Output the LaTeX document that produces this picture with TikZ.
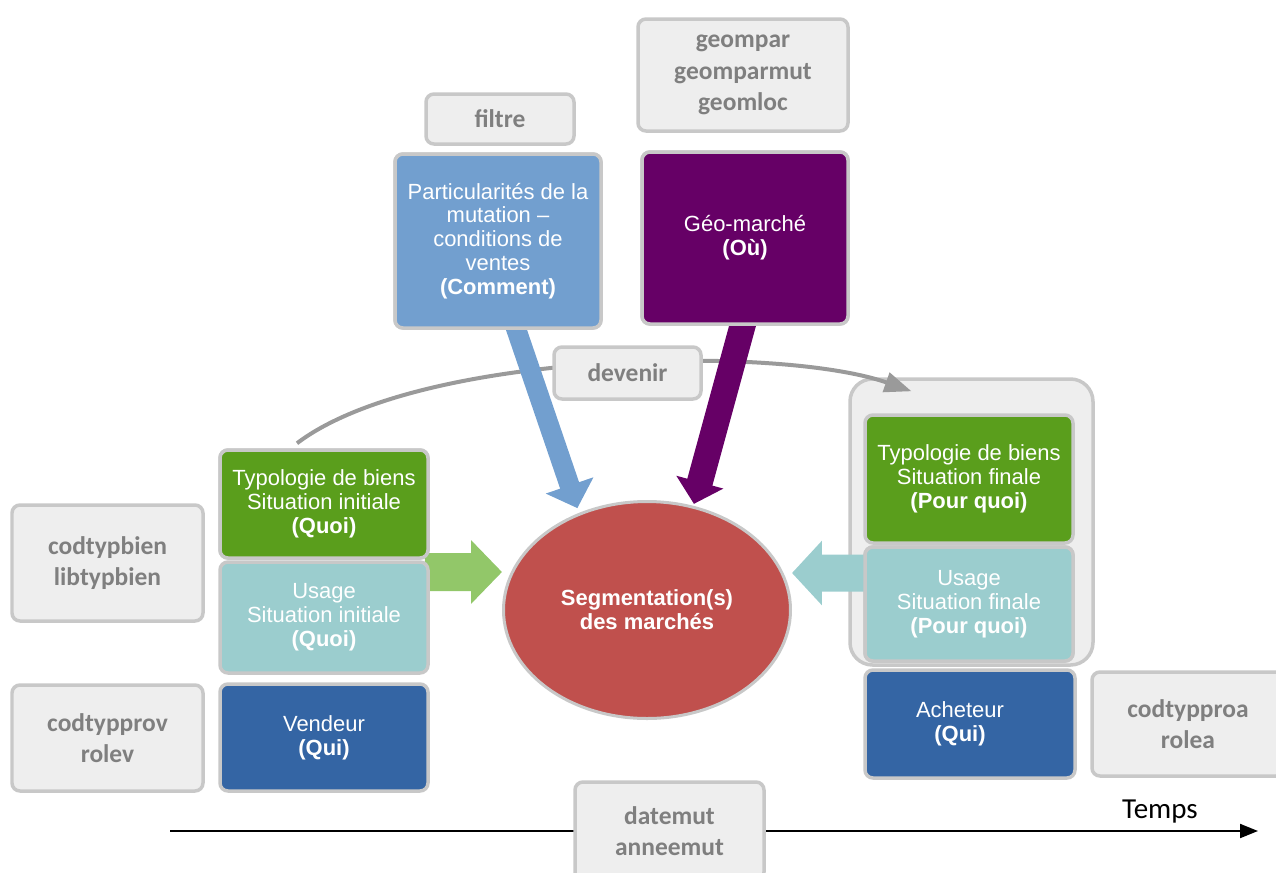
\documentclass[tikz,border=0pt]{standalone}
\usepackage{fontspec}
\setmainfont{Liberation Sans}
\newfontfamily\varfont{Carlito}
\usetikzlibrary{arrows.meta,shapes.geometric}

\definecolor{boxfill}{HTML}{EEEEEE}
\definecolor{edge}{HTML}{C8C8C8}
\definecolor{vartext}{HTML}{7F7F7F}
\definecolor{typogreen}{HTML}{5A9E1C}
\definecolor{usageteal}{HTML}{9BCDCE}
\definecolor{rolblue}{HTML}{3465A4}
\definecolor{condblue}{HTML}{729FCF}
\definecolor{geopurple}{HTML}{660066}
\definecolor{segred}{HTML}{C0504D}
\definecolor{arrowgreen}{HTML}{92C769}
\definecolor{flowgray}{HTML}{9A9A9A}

\begin{document}
\begin{tikzpicture}[x=0.02cm,y=-0.02cm,
  wh/.style 2 args={minimum width=#1*0.02cm, minimum height=#2*0.02cm},
  frame/.style={draw=edge, line width=0.07cm, rounded corners=0.16cm,
                inner sep=0pt, align=center},
  var/.style={frame, fill=boxfill, text=vartext,
              font=\varfont\bfseries\fontsize{14.5}{18}\selectfont},
  topic/.style={frame, text=white, font=\fontsize{12.5}{13.6}\selectfont},
  blockarrow/.style={line width=#1}]
\useasboundingbox (0,0) rectangle (1276,873);
\clip (0,0) rectangle (1276,873);

% central ellipse
\node[ellipse, draw=edge, line width=0.06cm, fill=segred, wh={287}{217},
      text=white, align=center, inner sep=0pt,
      font=\bfseries\fontsize{12.5}{13.8}\selectfont]
  (seg) at (647,610) {Segmentation(s)\\des marchés};

% boxes whose position the connectors refer to
\path
  node[topic, fill=typogreen, wh={208}{108}] (typoIni) at (324,504) {}
  node[topic, fill=condblue, wh={206}{174}] (particul) at (498,241) {}
  node[topic, fill=geopurple, wh={206}{172}] (geomarche) at (745,238) {}
  node[frame, fill=boxfill, rounded corners=0.45cm, wh={243}{286}] (finalbox) at (971.5,522) {}
  node[topic, fill=usageteal, wh={208}{114}] (usageFin) at (969,604) {};

% "devenir" link from the initial to the final situation
\draw[flowgray, line width=0.08cm, -{Triangle[length=0.54cm, width=0.4cm]}]
  ([xshift=-0.54cm, yshift=0.1cm]typoIni.north)
  .. controls (420,350) and (780,345) ..
  ([xshift=-1.2cm, yshift=-0.28cm]finalbox.north);

% block arrows towards the segmentation
\draw[condblue, blockarrow=0.4cm, -{Triangle[width=0.98cm, length=0.48cm]}, shorten >=0.1cm]
  ([xshift=0.28cm, yshift=0.26cm]particul.south) -- (seg.125);
\draw[geopurple, blockarrow=0.52cm, -{Triangle[width=0.95cm, length=0.45cm]}, shorten >=0.04cm]
  ([yshift=0.18cm]geomarche.south) -- (seg.66);
\draw[arrowgreen, blockarrow=0.76cm, -{Triangle[width=1.24cm, length=0.62cm]}]
  ([xshift=-0.1cm, yshift=-0.245cm]typoIni.south east) -- ([yshift=0.76cm]seg.west);
\draw[usageteal, blockarrow=0.74cm, -{Triangle[width=1.26cm, length=0.6cm]}]
  ([xshift=0.1cm, yshift=0.62cm]usageFin.west) -- ([yshift=0.74cm]seg.east);

% time axis
\coordinate (tstart) at (170,831);
\coordinate (tend) at (1258,831);
\draw[black, line width=0.04cm, -{Triangle[length=0.36cm, width=0.28cm]}] (tstart) -- (tend);
\node[font=\varfont\fontsize{16.5}{18}\selectfont, inner sep=0pt] (temps) at (1160,812) {Temps};

% topic boxes (drawn over the arrow shafts)
\node[topic, fill=condblue, wh={206}{174}] at (particul) {Particularités de la\\mutation --\\conditions de\\ventes\\\textbf{(Comment)}};
\node[topic, fill=geopurple, wh={206}{172}] at (geomarche) {Géo-marché\\\textbf{(Où)}};
\node[topic, fill=typogreen, wh={208}{108}] at (typoIni) {Typologie de biens\\Situation initiale\\\textbf{(Quoi)}};
\node[topic, fill=usageteal, wh={208}{111}] (usageIni) at (324,617.5) {Usage\\Situation initiale\\\textbf{(Quoi)}};
\node[topic, fill=rolblue, wh={208}{107}] (vendeur) at (324,737.5) {Vendeur\\\textbf{(Qui)}};
\node[topic, fill=typogreen, wh={208}{128}] (typoFin) at (969,479) {Typologie de biens\\Situation finale\\\textbf{(Pour quoi)}};
\node[topic, fill=usageteal, wh={208}{114}] at (usageFin) {Usage\\Situation finale\\\textbf{(Pour quoi)}};
\node[topic, fill=rolblue, wh={210}{108}] (acheteur) at (970,724) {\hspace*{-0.4cm}Acheteur\\\hspace*{-0.4cm}\textbf{(Qui)}};

% variable boxes
\node[var, wh={148}{50}] (filtre) at (500,119) {filtre};
\node[var, wh={210}{112}] (geomvars) at (743,75) {geompar\\geomparmut\\geomloc};
\node[var, wh={147}{52}] (devenir) at (627.5,373) {devenir};
\node[var, wh={191}{116}] (typbien) at (107.5,563) {codtypbien\\libtypbien};
\node[var, wh={191}{106}] (roleV) at (107.5,738) {codtypprov\\rolev};
\node[var, wh={192}{104}] (roleA) at (1188,724) {codtypproa\\rolea};
\node[var, wh={189}{98}] (datemut) at (669.5,831) {datemut\\anneemut};
\end{tikzpicture}
\end{document}
